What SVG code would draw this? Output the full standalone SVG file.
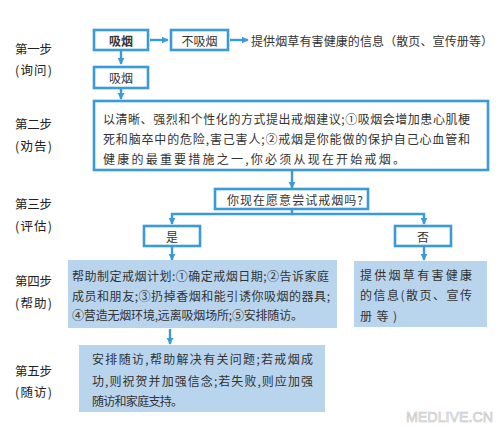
<svg xmlns="http://www.w3.org/2000/svg" width="500" height="433" viewBox="0 0 500 433">
<defs>
<style>
.box{fill:#fff;stroke:#3b9ad8;stroke-width:2.6}
.fbox{fill:#b9d5ee;stroke:none}
.ln{fill:none;stroke:#3b9ad8;stroke-width:2.4}
.t{font-family:"Noto Sans CJK SC","Noto Sans",sans-serif;font-size:12px;fill:#333;dominant-baseline:central}
.lb{font-family:"Noto Sans CJK SC","Noto Sans",sans-serif;font-size:12.5px;fill:#222;dominant-baseline:central}
.c{text-anchor:middle}
</style>
<marker id="ah" viewBox="0 0 10 10" refX="9" refY="5" markerWidth="3" markerHeight="3" orient="auto" markerUnits="strokeWidth">
<path d="M0,0 L10,5 L0,10 z" fill="#3b9ad8"/>
</marker>
</defs>
<rect width="500" height="433" fill="#fff"/>

<g id="labels">
<text class="lb" x="15" y="48" textLength="37" lengthAdjust="spacing">第一步</text>
<text class="lb" x="15" y="69" textLength="37" lengthAdjust="spacing">(询问)</text>
<text class="lb" x="15" y="123" textLength="37" lengthAdjust="spacing">第二步</text>
<text class="lb" x="15" y="145" textLength="37" lengthAdjust="spacing">(劝告)</text>
<text class="lb" x="15" y="203" textLength="37" lengthAdjust="spacing">第三步</text>
<text class="lb" x="15" y="225" textLength="37" lengthAdjust="spacing">(评估)</text>
<text class="lb" x="15" y="280" textLength="37" lengthAdjust="spacing">第四步</text>
<text class="lb" x="15" y="302" textLength="37" lengthAdjust="spacing">(帮助)</text>
<text class="lb" x="15" y="370" textLength="37" lengthAdjust="spacing">第五步</text>
<text class="lb" x="15" y="391" textLength="37" lengthAdjust="spacing">(随访)</text>
</g>

<g id="connectors">
<line class="ln" x1="150" y1="40" x2="168" y2="40" marker-end="url(#ah)"/>
<line class="ln" x1="230" y1="40" x2="248" y2="40" marker-end="url(#ah)"/>
<line class="ln" x1="121" y1="51" x2="121" y2="64" marker-end="url(#ah)"/>
<line class="ln" x1="121" y1="89" x2="121" y2="99" marker-end="url(#ah)"/>
<line class="ln" x1="292" y1="171" x2="292" y2="188" marker-end="url(#ah)"/>
<polyline class="ln" points="292,210 292,214 172,214 172,224" marker-end="url(#ah)"/>
<polyline class="ln" points="292,214 424,214 424,224" marker-end="url(#ah)"/>
<line class="ln" x1="172" y1="247" x2="172" y2="260" marker-end="url(#ah)"/>
<line class="ln" x1="424" y1="247" x2="424" y2="260" marker-end="url(#ah)"/>
<line class="ln" x1="170" y1="329" x2="170" y2="344" marker-end="url(#ah)"/>
</g>

<g id="n-smoke1">
<rect class="box" x="94" y="30" width="54" height="20" stroke-width="3"/>
<text class="t c" x="121" y="40" font-weight="bold">吸烟</text>
</g>
<g id="n-nosmoke">
<rect class="box" x="171" y="30" width="57" height="20"/>
<text class="t c" x="199.5" y="40">不吸烟</text>
</g>
<g id="n-info1">
<text class="t" x="251" y="40" textLength="242" lengthAdjust="spacing">提供烟草有害健康的信息（散页、宣传册等）</text>
</g>
<g id="n-smoke2">
<rect class="box" x="94" y="67" width="54" height="21"/>
<text class="t c" x="121" y="77.5">吸烟</text>
</g>
<g id="n-advise">
<rect class="box" x="94" y="101" width="394" height="69"/>
<text class="t" x="103" y="118" textLength="367" lengthAdjust="spacing">以清晰、强烈和个性化的方式提出戒烟建议;①吸烟会增加患心肌梗</text>
<text class="t" x="103" y="138" textLength="367" lengthAdjust="spacing">死和脑卒中的危险,害己害人;②戒烟是你能做的保护自己心血管和</text>
<text class="t" x="103" y="158" textLength="302" lengthAdjust="spacing">健康的最重要措施之一,你必须从现在开始戒烟。</text>
</g>
<g id="n-question">
<rect class="box" x="215" y="189" width="153" height="20"/>
<text class="t" x="227" y="199" textLength="136" lengthAdjust="spacing">你现在愿意尝试戒烟吗?</text>
</g>
<g id="n-yes">
<rect class="box" x="144" y="226" width="56" height="20"/>
<text class="t c" x="172" y="236">是</text>
</g>
<g id="n-no">
<rect class="box" x="395" y="226" width="56" height="20"/>
<text class="t c" x="423" y="236">否</text>
</g>
<g id="n-help">
<rect class="fbox" x="68" y="260" width="269" height="68"/>
<text class="t" x="72" y="275" textLength="257" lengthAdjust="spacing">帮助制定戒烟计划:①确定戒烟日期;②告诉家庭</text>
<text class="t" x="72" y="295" textLength="258" lengthAdjust="spacing">成员和朋友;③扔掉香烟和能引诱你吸烟的器具;</text>
<text class="t" x="72" y="314" textLength="231" lengthAdjust="spacing">④营造无烟环境,远离吸烟场所;⑤安排随访。</text>
</g>
<g id="n-info2">
<rect class="fbox" x="354" y="261" width="133" height="66"/>
<text class="t" x="360" y="274" textLength="112" lengthAdjust="spacing">提供烟草有害健康</text>
<text class="t" x="360" y="294" textLength="112" lengthAdjust="spacing">的信息(散页、宣传</text>
<text class="t" x="360" y="315" textLength="37" lengthAdjust="spacing">册等)</text>
</g>
<g id="n-follow">
<rect class="fbox" x="79" y="345" width="246" height="67"/>
<text class="t" x="92" y="358" textLength="221" lengthAdjust="spacing">安排随访,帮助解决有关问题;若戒烟成</text>
<text class="t" x="92" y="380" textLength="221" lengthAdjust="spacing">功,则祝贺并加强信念;若失败,则应加强</text>
<text class="t" x="92" y="400" textLength="91" lengthAdjust="spacing">随访和家庭支持。</text>
</g>

<text x="406" y="422" font-family="'Liberation Sans',Arial,sans-serif" font-size="14" fill="#f2f2f2" stroke="#c4c4c4" stroke-width="0.6" textLength="87" lengthAdjust="spacingAndGlyphs">MEDLIVE.CN</text>
</svg>
